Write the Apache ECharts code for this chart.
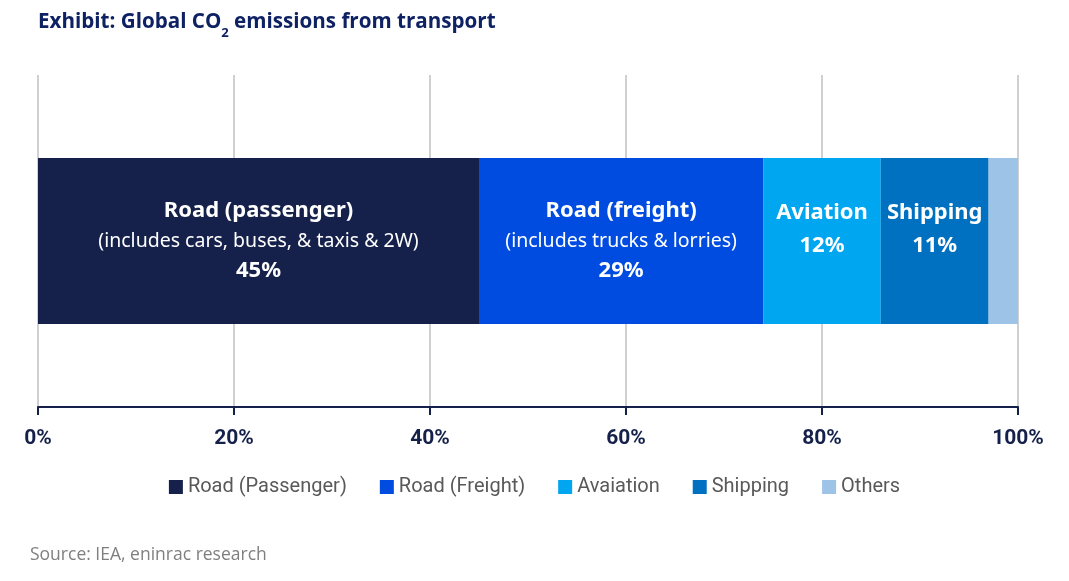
<!DOCTYPE html>
<html>
<head>
<meta charset="utf-8">
<script src="https://cdn.jsdelivr.net/npm/echarts@6/dist/echarts.min.js"></script>
<style>html,body{margin:0;padding:0;background:#fff}#c{width:1069px;height:581px}</style>
</head>
<body>
<div id="c"></div>
<script>
const categories = ['Transport'];
const seriesNames = ['Road (Passenger)', 'Road (Freight)', 'Avaiation', 'Shipping', 'Others'];
const seriesValues = [45, 29, 12, 11, 3];
const labelTitles = ['Road (passenger)', 'Road (freight)', 'Aviation', 'Shipping', ''];
const labelNotes = ['(includes cars, buses, & taxis & 2W)', '(includes trucks & lorries)', '', '', ''];
const tickValues = [0, 20, 40, 60, 80, 100];
const colors = ['#15214B', '#004BE0', '#00A6F0', '#0070C0', '#9DC3E6'];

const chart = echarts.init(document.getElementById('c'));
const series = seriesNames.map((name, i) => ({
  name: name,
  type: 'bar',
  stack: 'total',
  barWidth: 166,
  itemStyle: { color: colors[i] },
  data: [seriesValues[i]],
  label: {
    show: labelTitles[i] !== '',
    position: 'inside',
    offset: labelNotes[i] ? [0, 0] : [0, -12],
    formatter: function (p) {
      const parts = ['{t|' + labelTitles[i] + '}'];
      if (labelNotes[i]) parts.push('{n|' + labelNotes[i] + '}');
      parts.push('{t|' + p.value + '%}');
      return parts.join('\n');
    },
    rich: {
      t: { color: '#fff', fontFamily: 'Noto Sans', fontWeight: 'bold', fontSize: 22, lineHeight: labelNotes[i] ? 30 : 33 },
      n: { color: '#fff', fontFamily: 'Noto Sans', fontSize: 19.5, lineHeight: 30 }
    }
  }
}));

chart.setOption({
  animation: false,
  title: {
    text: '{a|Exhibit: Global CO}{s|2}{a| emissions from transport}',
    left: 33, top: 0,
    textStyle: {
      rich: {
        a: { fontFamily: 'Open Sans', fontWeight: 'bold', fontSize: 20.6, color: '#0E2162', verticalAlign: 'bottom', lineHeight: 28 },
        s: { fontFamily: 'Open Sans', fontWeight: 'bold', fontSize: 13, color: '#0E2162', verticalAlign: 'bottom', lineHeight: 20, padding: [0, 0, -7, 0] }
      }
    }
  },
  legend: {
    data: seriesNames,
    left: 'center', top: 472,
    icon: 'rect', itemWidth: 14, itemHeight: 14, itemGap: 33,
    textStyle: { fontFamily: 'Roboto', fontSize: 20, color: '#595959' }
  },
  grid: { left: 38, right: 51, top: 75, bottom: 174, containLabel: false },
  xAxis: {
    type: 'value', min: 0, max: 100, interval: 20,
    axisLine: { show: true, lineStyle: { color: '#15214B', width: 2 } },
    axisTick: { show: true, length: 8, lineStyle: { color: '#15214B', width: 2 } },
    splitLine: { show: true, lineStyle: { color: '#D0D0D0', width: 2 } },
    axisLabel: {
      margin: 21,
      fontFamily: 'Roboto', fontWeight: 'bold', fontSize: 21, color: '#15214B',
      formatter: function (v) { return tickValues.indexOf(v) >= 0 ? v + '%' : ''; }
    }
  },
  yAxis: {
    type: 'category', data: categories,
    axisLine: { show: false }, axisTick: { show: false }, axisLabel: { show: false }
  },
  graphic: [{
    type: 'text', left: 30, top: 546,
    style: { text: 'Source: IEA, eninrac research', fontFamily: 'Open Sans', fontSize: 17.5, fill: '#7F7F7F' }
  }],
  series: series
});
</script>
</body>
</html>
